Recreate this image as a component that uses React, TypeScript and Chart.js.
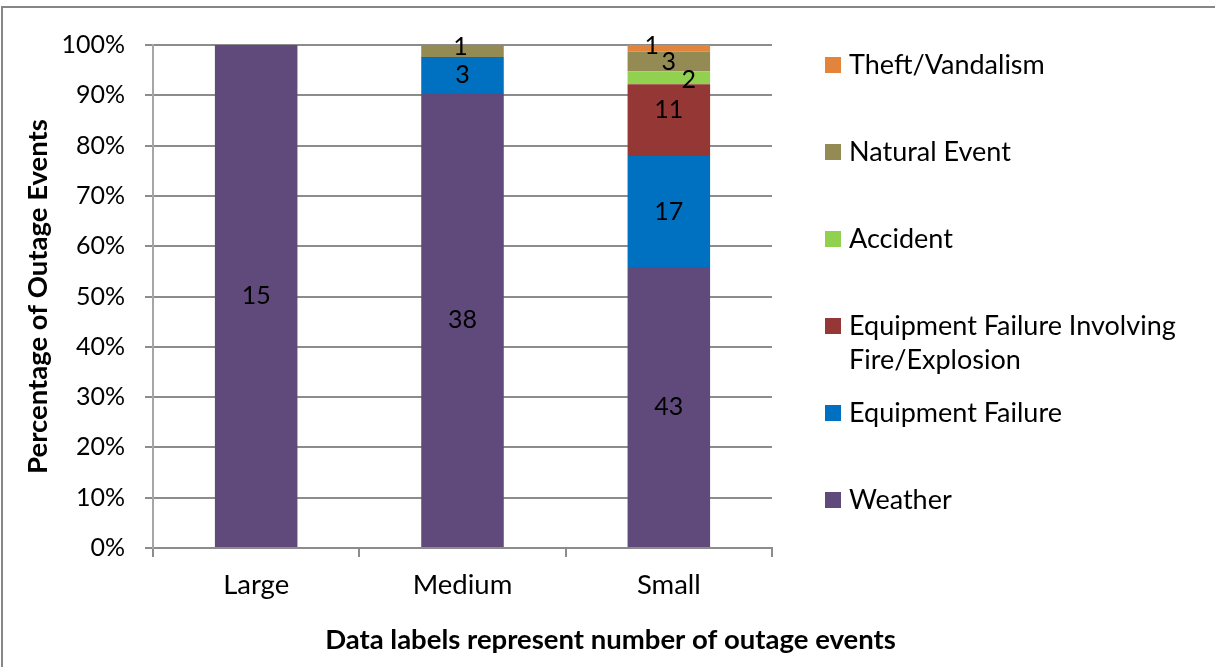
import React, { useEffect, useRef } from "react";
import { Chart, registerables } from "chart.js";

Chart.register(...registerables);

const categories = ["Large", "Medium", "Small"];

const seriesNames = [
  "Weather",
  "Equipment Failure",
  "Equipment Failure Involving Fire/Explosion",
  "Accident",
  "Natural Event",
  "Theft/Vandalism",
];

const weather = [15, 38, 43];
const equipmentFailure = [0, 3, 17];
const equipmentFire = [0, 0, 11];
const accident = [0, 0, 2];
const naturalEvent = [0, 1, 3];
const theft = [0, 0, 1];

const seriesColors = ["#604A7B", "#0070C0", "#953735", "#92D050", "#948A54", "#E2843C"];

const yTicks = [0, 10, 20, 30, 40, 50, 60, 70, 80, 90, 100];

const yTitle = "Percentage of Outage Events";
const xTitle = "Data labels represent number of outage events";

// label nudges (dataset index, category index) -> [dx, dy] in px
const labelNudges: Record<string, [number, number]> = {
  "2-2": [0, -10],
  "3-2": [20, 2],
  "4-1": [-2, -4],
  "4-2": [0, 1],
  "5-2": [-17, -2],
};

const FONT = "Lato";

export default function App() {
  const ref = useRef<HTMLCanvasElement | null>(null);

  useEffect(() => {
    const canvas = ref.current;
    if (!canvas) return;
    const counts = [weather, equipmentFailure, equipmentFire, accident, naturalEvent, theft];
    const totals = categories.map((_, i) => counts.reduce((s, arr) => s + arr[i], 0));

    const datasets = counts.map((arr, di) => ({
      label: seriesNames[di],
      data: arr.map((v, i) => (v / totals[i]) * 100),
      counts: arr,
      backgroundColor: seriesColors[di],
      borderWidth: 0,
      barPercentage: 0.4,
      categoryPercentage: 1,
    }));

    const framePlugin = {
      id: "frame",
      afterDraw(chart: any) {
        const ctx = chart.ctx;
        ctx.save();
        ctx.strokeStyle = "#868686";
        ctx.lineWidth = 2;
        ctx.strokeRect(2, 7, 3000, 3000);
        ctx.restore();
      },
    };

    const labelsPlugin = {
      id: "dataLabels",
      afterDatasetsDraw(chart: any) {
        const ctx = chart.ctx;
        ctx.save();
        ctx.font = `25px ${FONT}`;
        ctx.fillStyle = "#000";
        ctx.textAlign = "center";
        ctx.textBaseline = "middle";
        chart.data.datasets.forEach((ds: any, di: number) => {
          const meta = chart.getDatasetMeta(di);
          meta.data.forEach((bar: any, i: number) => {
            const c = ds.counts[i];
            if (!c) return;
            const nudge = labelNudges[`${di}-${i}`] || [0, 0];
            const cy = (bar.y + bar.base) / 2;
            ctx.fillText(String(c), bar.x + nudge[0], cy + nudge[1]);
          });
        });
        ctx.restore();
      },
    };

    const titlesPlugin = {
      id: "titles",
      afterDraw(chart: any) {
        const ctx = chart.ctx;
        const a = chart.chartArea;
        ctx.save();
        ctx.fillStyle = "#000";
        ctx.font = `bold 27.5px ${FONT}`;
        ctx.textAlign = "center";
        ctx.textBaseline = "middle";
        ctx.fillText(xTitle, chart.width / 2 + 3, a.bottom + 92);
        ctx.translate(38, (a.top + a.bottom) / 2);
        ctx.rotate(-Math.PI / 2);
        ctx.fillText(yTitle, 0, 0);
        ctx.restore();
      },
    };

    const legendPlugin = {
      id: "customLegend",
      afterDraw(chart: any) {
        const ctx = chart.ctx;
        const a = chart.chartArea;
        const x0 = a.right + 53;
        const y0 = a.top + 20;
        const step = 87;
        const box = 16;
        const maxW = chart.width - (x0 + 24) - 4;
        ctx.save();
        ctx.font = `27px ${FONT}`;
        ctx.textBaseline = "middle";
        ctx.textAlign = "left";
        const dss = chart.data.datasets.slice().reverse();
        dss.forEach((ds: any, k: number) => {
          const cy = y0 + k * step;
          ctx.fillStyle = ds.backgroundColor;
          ctx.fillRect(x0, cy - box / 2, box, box);
          ctx.fillStyle = "#000";
          const words = String(ds.label).split(" ");
          const lines: string[] = [];
          let cur = "";
          words.forEach((w) => {
            const t = cur ? cur + " " + w : w;
            if (ctx.measureText(t).width > maxW && cur) {
              lines.push(cur);
              cur = w;
            } else cur = t;
          });
          if (cur) lines.push(cur);
          lines.forEach((ln, li) => ctx.fillText(ln, x0 + 24, cy + li * 34));
        });
        ctx.restore();
      },
    };

    const chart = new Chart(canvas, {
      type: "bar",
      data: { labels: categories, datasets: datasets as any },
      options: {
        responsive: false,
        animation: false,
        devicePixelRatio: 1,
        layout: { padding: { left: 0, top: 45, right: 443, bottom: 0 } },
        plugins: {
          legend: { display: false },
          tooltip: { enabled: false },
        },
        scales: {
          x: {
            stacked: true,
            offset: true,
            grid: {
              offset: true,
              drawOnChartArea: false,
              drawTicks: true,
              tickLength: 9,
              color: "#8c8c8c",
              lineWidth: 2,
            },
            border: { color: "#8c8c8c", width: 2 },
            ticks: {
              color: "#000",
              font: { family: FONT, size: 27.5 },
              padding: 12,
            },
            afterFit(scale: any) {
              scale.height = 119;
            },
          },
          y: {
            stacked: true,
            min: 0,
            max: 100,
            afterBuildTicks(scale: any) {
              scale.ticks = yTicks.map((v) => ({ value: v }));
            },
            grid: {
              color: "#8c8c8c",
              lineWidth: 2,
              tickLength: 8,
            },
            border: { color: "#a6a6a6", width: 2 },
            ticks: {
              color: "#000",
              font: { family: FONT, size: 25 },
              padding: 20,
              callback: (v: any) => `${v}%`,
            },
            afterFit(scale: any) {
              scale.width = 153;
            },
          },
        },
      },
      plugins: [labelsPlugin, titlesPlugin, legendPlugin, framePlugin],
    });
    return () => chart.destroy();
  }, []);

  return (
    <div style={{ position: "absolute", left: 0, top: 0, width: 1215, height: 667, background: "#fff" }}>
      <canvas ref={ref} width={1215} height={667} style={{ display: "block" }} />
    </div>
  );
}
